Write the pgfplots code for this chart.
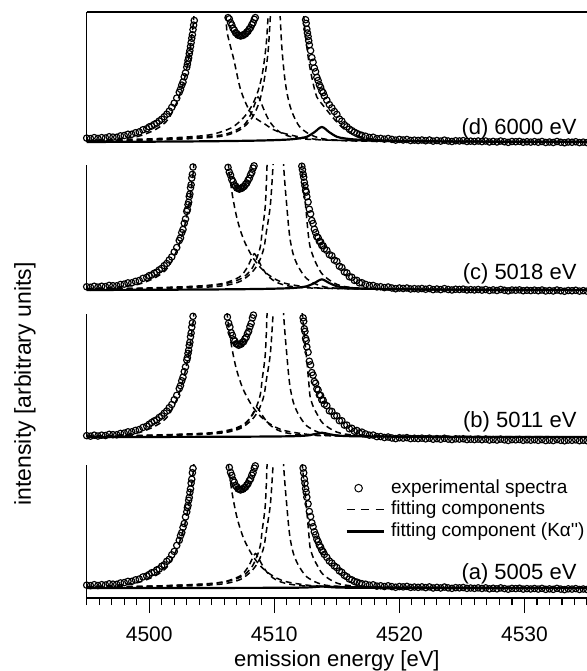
\documentclass[border=0pt]{standalone}
\usepackage{fontspec}
\setmainfont{Liberation Sans}
\usepackage{pgfplots}
\pgfplotsset{compat=1.18}
\begin{document}
\begin{tikzpicture}
\useasboundingbox (0,0) rectangle (587bp,671bp);
\pgfplotsset{
  panel/.style={scale only axis, width=500.3bp, xmin=4495, xmax=4535, ymax=1},
  expt/.style={black, only marks, mark=o, mark size=3.2bp, mark options={line width=1.15bp, solid}},
  comp/.style={black, smooth, no marks, line width=1.5bp, dash pattern=on 6bp off 4bp},
  kapp/.style={black, smooth, no marks, line width=2.2bp},
}
% ---------------- panel d ----------------
\begin{axis}[panel, name=pd, at={(86.7bp,521.5bp)}, anchor=south west, height=132.5bp, ymin=-0.06, hide axis]
\addplot[expt] coordinates {(4495.0,0.031)(4495.3,0.027)(4495.6,0.035)(4495.9,0.028)(4496.2,0.035)(4496.5,0.032)(4496.8,0.042)(4497.1,0.039)(4497.4,0.038)(4497.7,0.049)(4498.0,0.052)(4498.3,0.062)(4498.6,0.062)(4498.9,0.074)(4499.2,0.081)(4499.5,0.098)(4499.8,0.106)
(4500.0,0.121)(4500.2,0.128)(4500.4,0.141)(4500.6,0.151)(4500.8,0.168)(4501.0,0.182)(4501.2,0.202)(4501.4,0.222)(4501.6,0.247)(4501.8,0.277)(4502.0,0.311)(4502.2,0.351)(4502.4,0.398)(4502.5,0.422)(4502.6,0.455)(4502.7,0.479)(4502.8,0.521)(4502.9,0.553)(4503.0,0.598)(4503.05,0.622)(4503.1,0.652)(4503.15,0.672)(4503.2,0.706)(4503.25,0.731)(4503.3,0.764)(4503.35,0.795)(4503.4,0.830)(4503.45,0.858)(4503.5,0.899)(4503.55,0.935)(4503.6,0.972)
(4506.3,0.995)(4506.4,0.985)(4506.5,0.955)(4506.6,0.936)(4506.7,0.909)(4506.8,0.895)(4506.9,0.874)(4507.0,0.867)(4507.1,0.855)(4507.2,0.853)(4507.3,0.848)(4507.4,0.852)(4507.5,0.853)(4507.6,0.862)(4507.7,0.865)(4507.8,0.879)(4507.9,0.886)(4508.0,0.904)(4508.1,0.915)(4508.2,0.938)(4508.3,0.954)(4508.4,0.981)(4508.48,0.995)
(4512.5,0.978)(4512.55,0.949)(4512.6,0.903)(4512.65,0.872)(4512.7,0.844)(4512.75,0.810)(4512.8,0.777)(4512.9,0.731)(4513.0,0.675)(4513.1,0.638)(4513.2,0.592)(4513.3,0.562)(4513.4,0.517)(4513.5,0.492)(4513.6,0.458)(4513.7,0.438)(4513.8,0.407)(4513.9,0.395)(4514.0,0.368)(4514.2,0.334)(4514.4,0.299)(4514.6,0.273)(4514.8,0.244)(4515.0,0.221)(4515.2,0.184)(4515.4,0.167)(4515.6,0.138)(4515.8,0.122)(4516.0,0.103)(4516.2,0.091)(4516.4,0.078)(4516.6,0.068)(4516.8,0.059)(4517.0,0.053)
(4517.3,0.046)(4517.6,0.036)(4517.9,0.038)(4518.2,0.027)(4518.5,0.029)(4518.8,0.023)(4519.1,0.028)(4519.4,0.021)(4519.7,0.015)(4520.0,0.021)
(4520.3,0.016)(4520.6,0.020)(4520.9,0.012)(4521.2,0.015)(4521.5,0.012)(4521.8,0.016)(4522.1,0.010)(4522.4,0.016)(4522.7,0.007)(4523.0,0.012)(4523.3,0.007)(4523.6,0.015)(4523.9,0.008)(4524.2,0.004)(4524.5,0.010)(4524.8,0.008)(4525.1,0.011)(4525.4,0.004)(4525.7,0.007)(4526.0,0.004)(4526.3,0.008)(4526.6,0.003)(4526.9,0.008)(4527.2,0.000)(4527.5,0.005)(4527.8,0.000)(4528.1,0.008)(4528.4,0.002)(4528.7,-0.003)(4529.0,0.004)(4529.3,0.002)(4529.6,0.005)(4529.9,-0.002)(4530.2,0.002)(4530.5,-0.001)(4530.8,0.003)(4531.1,-0.002)(4531.4,0.004)(4531.7,-0.004)(4532.0,0.000)(4532.3,-0.004)(4532.6,0.004)(4532.9,-0.002)(4533.2,-0.006)(4533.5,0.000)(4533.8,-0.002)(4534.1,0.002)(4534.4,-0.005)(4534.7,-0.001)(4535.0,-0.005)};
\addplot[comp] coordinates {(4495,0.012)(4497,0.02)(4499,0.042)(4500.5,0.10)(4501.5,0.18)(4502.3,0.34)(4502.8,0.50)(4503.2,0.70)(4503.5,0.93)(4503.6,1.05)};
\addplot[comp] coordinates {(4506.05,1.1)(4506.15,0.98)(4506.24,0.87)(4506.76,0.66)(4507.3,0.42)(4507.96,0.26)(4508.5,0.19)(4509.15,0.15)(4509.9,0.10)(4510.74,0.07)(4512.6,0.03)(4515,0.012)(4520,0.004)(4535,0.0)};
\addplot[comp] coordinates {(4495,0.0065)(4500.2,0.019)(4504.06,0.0385)(4506.16,0.064)(4507.51,0.129)(4508.11,0.219)(4508.41,0.296)(4508.7,0.36)(4508.96,0.309)(4509.23,0.244)(4509.61,0.167)(4510.13,0.103)(4510.71,0.064)(4511.51,0.0385)(4513.21,0.019)(4520.2,0.0065)(4535,0.0025)};
\addplot[comp] coordinates {(4495,0.012)(4500,0.025)(4503,0.04)(4505,0.06)(4506.5,0.11)(4507.3,0.17)(4507.9,0.24)(4508.4,0.33)(4508.8,0.44)(4509.1,0.58)(4509.35,0.78)(4509.5,1.0)(4509.55,1.12)};
\addplot[comp] coordinates {(4495,0.008)(4500,0.015)(4504,0.03)(4506,0.05)(4507.3,0.1)(4508.2,0.19)(4508.8,0.32)(4509.2,0.5)(4509.5,0.72)(4509.68,1.0)(4509.72,1.12)};
\addplot[comp] coordinates {(4510.4,1.1)(4510.47,1.0)(4510.6,0.76)(4510.8,0.54)(4511.0,0.40)(4511.25,0.29)(4511.54,0.21)(4512.0,0.125)(4512.6,0.075)(4513.5,0.035)(4515,0.015)(4520,0.005)(4535,0.0)};
\addplot[comp] coordinates {(4512.3,1.1)(4512.4,0.95)(4512.6,0.76)(4512.8,0.62)(4513.1,0.47)(4513.4,0.36)(4513.8,0.305)(4514.2,0.255)(4514.6,0.205)(4515.0,0.16)(4515.5,0.11)(4516.3,0.06)(4517.5,0.03)(4520,0.01)(4535,0.0)};
\addplot[kapp] coordinates {(4495,0)(4502,0.0036)(4506,0.0072)(4509,0.012)(4511,0.019)(4512,0.029)(4512.6,0.042)(4513.2,0.078)(4513.8,0.12)(4514.4,0.078)(4515.0,0.042)(4515.6,0.029)(4516.6,0.019)(4518.6,0.012)(4522,0.006)(4528,0.0024)(4535,0.0012)};
\end{axis}
% ---------------- panel c ----------------
\begin{axis}[panel, name=pc, at={(86.7bp,373.5bp)}, anchor=south west, height=132.5bp, ymin=-0.06, hide axis]
\addplot[expt] coordinates {(4495.0,0.026)(4495.3,0.022)(4495.6,0.030)(4495.9,0.023)(4496.2,0.030)(4496.5,0.027)(4496.8,0.037)(4497.1,0.034)(4497.4,0.033)(4497.7,0.044)(4498.0,0.047)(4498.3,0.057)(4498.6,0.057)(4498.9,0.069)(4499.2,0.076)(4499.5,0.093)(4499.8,0.101)
(4500.0,0.115)(4500.2,0.120)(4500.4,0.134)(4500.6,0.143)(4500.8,0.161)(4501.0,0.173)(4501.2,0.195)(4501.4,0.212)(4501.6,0.240)(4501.8,0.265)(4502.0,0.304)(4502.2,0.340)(4502.4,0.396)(4502.5,0.417)(4502.6,0.459)(4502.7,0.484)(4502.8,0.534)(4502.9,0.568)(4503.0,0.629)(4503.05,0.643)(4503.1,0.683)(4503.15,0.702)(4503.2,0.748)(4503.25,0.767)(4503.3,0.818)(4503.35,0.842)(4503.4,0.896)(4503.45,0.925)(4503.5,0.984)
(4506.3,0.981)(4506.4,0.943)(4506.5,0.919)(4506.6,0.884)(4506.7,0.867)(4506.8,0.840)(4506.9,0.832)(4507.0,0.816)(4507.1,0.814)(4507.2,0.807)(4507.3,0.813)(4507.4,0.814)(4507.5,0.825)(4507.6,0.829)(4507.7,0.846)(4507.8,0.856)(4507.9,0.878)(4508.0,0.893)(4508.1,0.921)(4508.2,0.941)(4508.3,0.975)(4508.38,0.993)
(4512.2,0.990)(4512.25,0.962)(4512.3,0.928)(4512.35,0.903)(4512.4,0.862)(4512.45,0.834)(4512.5,0.797)(4512.55,0.783)(4512.6,0.746)(4512.7,0.704)(4512.8,0.646)(4512.9,0.609)(4513.0,0.556)(4513.1,0.532)(4513.2,0.486)(4513.3,0.459)(4513.4,0.426)(4513.5,0.419)(4513.6,0.389)(4513.7,0.386)(4513.8,0.356)(4513.9,0.354)(4514.0,0.329)(4514.2,0.317)(4514.4,0.283)(4514.6,0.274)(4514.8,0.239)(4515.0,0.229)(4515.2,0.190)(4515.4,0.180)(4515.6,0.145)(4515.8,0.137)(4516.0,0.106)(4516.2,0.102)(4516.4,0.077)(4516.6,0.077)(4516.8,0.057)(4517.0,0.058)
(4517.3,0.045)(4517.6,0.036)(4517.9,0.036)(4518.2,0.025)(4518.5,0.026)(4518.8,0.019)(4519.1,0.024)(4519.4,0.016)(4519.7,0.010)(4520.0,0.016)
(4520.3,0.012)(4520.6,0.016)(4520.9,0.008)(4521.2,0.011)(4521.5,0.008)(4521.8,0.012)(4522.1,0.006)(4522.4,0.012)(4522.7,0.003)(4523.0,0.008)(4523.3,0.003)(4523.6,0.011)(4523.9,0.004)(4524.2,0.000)(4524.5,0.006)(4524.8,0.004)(4525.1,0.007)(4525.4,0.000)(4525.7,0.003)(4526.0,0.000)(4526.3,0.004)(4526.6,-0.001)(4526.9,0.004)(4527.2,-0.004)(4527.5,0.001)(4527.8,-0.004)(4528.1,0.004)(4528.4,-0.002)(4528.7,-0.007)(4529.0,0.000)(4529.3,-0.002)(4529.6,0.001)(4529.9,-0.006)(4530.2,-0.002)(4530.5,-0.005)(4530.8,-0.001)(4531.1,-0.006)(4531.4,0.000)(4531.7,-0.008)(4532.0,-0.004)(4532.3,-0.008)(4532.6,0.000)(4532.9,-0.006)(4533.2,-0.010)(4533.5,-0.004)(4533.8,-0.006)(4534.1,-0.002)(4534.4,-0.009)(4534.7,-0.005)(4535.0,-0.009)};
\addplot[comp] coordinates {(4495,0.012)(4497,0.02)(4499,0.042)(4500.5,0.10)(4501.5,0.18)(4502.3,0.34)(4502.8,0.50)(4503.2,0.70)(4503.5,0.93)(4503.6,1.05)};
\addplot[comp] coordinates {(4506.25,1.1)(4506.35,0.98)(4506.63,0.77)(4507.03,0.567)(4507.56,0.40)(4508.22,0.27)(4508.8,0.19)(4509.42,0.13)(4510.2,0.08)(4511.0,0.05)(4512.5,0.025)(4513.9,0.015)(4520,0.004)(4535,0.0)};
\addplot[comp] coordinates {(4495,0.005)(4499.9,0.016)(4503.76,0.031)(4505.86,0.052)(4507.21,0.104)(4507.81,0.176)(4508.11,0.238)(4508.4,0.29)(4508.66,0.249)(4508.93,0.197)(4509.31,0.135)(4509.83,0.083)(4510.41,0.052)(4511.21,0.031)(4512.91,0.016)(4519.9,0.005)(4535,0.002)};
\addplot[comp] coordinates {(4495,0.008)(4500,0.015)(4503,0.025)(4505,0.035)(4506.5,0.06)(4507.5,0.10)(4508.2,0.17)(4508.62,0.26)(4508.89,0.35)(4509.02,0.46)(4509.28,0.675)(4509.42,1.0)(4509.47,1.12)};
\addplot[comp] coordinates {(4495,0.005)(4500,0.01)(4504,0.02)(4506,0.035)(4507.3,0.07)(4508.2,0.14)(4508.7,0.21)(4509.0,0.28)(4509.2,0.35)(4509.36,0.46)(4509.68,0.675)(4509.9,1.0)(4509.95,1.12)};
\addplot[comp] coordinates {(4510.68,1.12)(4510.74,1.0)(4510.87,0.82)(4511.0,0.67)(4511.13,0.52)(4511.27,0.40)(4511.5,0.29)(4511.8,0.21)(4512.2,0.14)(4512.6,0.09)(4513.5,0.04)(4514.9,0.015)(4520,0.005)(4535,0.0)};
\addplot[comp] coordinates {(4512.1,1.1)(4512.25,0.93)(4512.4,0.78)(4512.55,0.62)(4512.7,0.46)(4512.85,0.35)(4513.1,0.27)(4513.4,0.20)(4513.9,0.12)(4515.0,0.045)(4516.5,0.016)(4520,0.005)(4535,0.0)};
\addplot[kapp] coordinates {(4495,0)(4502,0.0026)(4506,0.0051)(4509,0.0085)(4511,0.0136)(4512,0.0204)(4512.6,0.0298)(4513.2,0.0553)(4513.8,0.085)(4514.4,0.0553)(4515.0,0.0298)(4515.6,0.0204)(4516.6,0.0136)(4518.6,0.0085)(4522,0.0043)(4528,0.0017)(4535,0.0009)};
\end{axis}
% ---------------- panel b ----------------
\begin{axis}[panel, name=pb, at={(86.7bp,226.6bp)}, anchor=south west, height=130.4bp, ymin=-0.06, hide axis]
\addplot[expt] coordinates {(4495.0,0.011)(4495.3,0.007)(4495.6,0.015)(4495.9,0.008)(4496.2,0.015)(4496.5,0.012)(4496.8,0.022)(4497.1,0.019)(4497.4,0.018)(4497.7,0.029)(4498.0,0.032)(4498.3,0.042)(4498.6,0.042)(4498.9,0.054)(4499.2,0.061)(4499.5,0.078)(4499.8,0.088)
(4500.0,0.104)(4500.2,0.118)(4500.4,0.131)(4500.6,0.140)(4500.8,0.159)(4501.0,0.172)(4501.2,0.194)(4501.4,0.211)(4501.6,0.239)(4501.8,0.264)(4502.0,0.303)(4502.2,0.339)(4502.4,0.394)(4502.5,0.418)(4502.6,0.457)(4502.7,0.486)(4502.8,0.531)(4502.9,0.570)(4503.0,0.626)(4503.05,0.645)(4503.1,0.680)(4503.15,0.705)(4503.2,0.745)(4503.25,0.770)(4503.3,0.815)(4503.35,0.845)(4503.4,0.893)(4503.45,0.928)(4503.5,0.981)
(4506.25,0.975)(4506.35,0.925)(4506.45,0.894)(4506.55,0.848)(4506.65,0.825)(4506.75,0.790)(4506.85,0.779)(4506.95,0.758)(4507.05,0.755)(4507.15,0.746)(4507.25,0.754)(4507.35,0.755)(4507.45,0.770)(4507.55,0.775)(4507.65,0.798)(4507.75,0.810)(4507.85,0.840)(4507.95,0.859)(4508.05,0.896)(4508.15,0.923)(4508.25,0.968)(4508.33,0.991)
(4512.3,0.969)(4512.35,0.941)(4512.4,0.880)(4512.45,0.858)(4512.5,0.802)(4512.55,0.784)(4512.6,0.732)(4512.7,0.689)(4512.8,0.616)(4512.9,0.586)(4513.0,0.524)(4513.1,0.503)(4513.2,0.451)(4513.3,0.437)(4513.4,0.391)(4513.5,0.382)(4513.6,0.342)(4513.7,0.338)(4513.8,0.301)(4513.9,0.300)(4514.0,0.267)(4514.2,0.254)(4514.4,0.213)(4514.6,0.208)(4514.8,0.173)(4515.0,0.171)(4515.2,0.133)(4515.4,0.132)(4515.6,0.097)(4515.8,0.097)(4516.0,0.067)(4516.2,0.071)(4516.4,0.047)(4516.6,0.053)(4516.8,0.033)(4517.0,0.040)
(4517.3,0.025)(4517.6,0.015)(4517.9,0.016)(4518.2,0.003)(4518.5,0.004)(4518.8,-0.004)(4519.1,0.000)(4519.4,-0.008)(4519.7,-0.013)(4520.0,-0.006)
(4520.3,-0.009)(4520.6,-0.005)(4520.9,-0.013)(4521.2,-0.010)(4521.5,-0.013)(4521.8,-0.009)(4522.1,-0.015)(4522.4,-0.009)(4522.7,-0.018)(4523.0,-0.013)(4523.3,-0.018)(4523.6,-0.010)(4523.9,-0.017)(4524.2,-0.021)(4524.5,-0.015)(4524.8,-0.017)(4525.1,-0.014)(4525.4,-0.021)(4525.7,-0.018)(4526.0,-0.021)(4526.3,-0.017)(4526.6,-0.022)(4526.9,-0.017)(4527.2,-0.025)(4527.5,-0.020)(4527.8,-0.025)(4528.1,-0.017)(4528.4,-0.023)(4528.7,-0.028)(4529.0,-0.021)(4529.3,-0.023)(4529.6,-0.020)(4529.9,-0.027)(4530.2,-0.023)(4530.5,-0.026)(4530.8,-0.022)(4531.1,-0.027)(4531.4,-0.021)(4531.7,-0.029)(4532.0,-0.025)(4532.3,-0.029)(4532.6,-0.021)(4532.9,-0.027)(4533.2,-0.031)(4533.5,-0.025)(4533.8,-0.027)(4534.1,-0.023)(4534.4,-0.030)(4534.7,-0.026)(4535.0,-0.030)};
\addplot[comp] coordinates {(4495,0.006)(4497,0.012)(4499,0.032)(4500.5,0.09)(4501.5,0.17)(4502.3,0.33)(4502.8,0.50)(4503.2,0.70)(4503.5,0.93)(4503.6,1.05)};
\addplot[comp] coordinates {(4506.15,1.1)(4506.25,0.98)(4506.53,0.77)(4506.93,0.567)(4507.46,0.40)(4508.12,0.27)(4508.7,0.19)(4509.32,0.13)(4510.1,0.08)(4510.9,0.05)(4512.4,0.025)(4513.8,0.015)(4520,0.004)(4535,0.0)};
\addplot[comp] coordinates {(4495,0.004)(4500.1,0.013)(4503.96,0.026)(4506.06,0.043)(4507.41,0.086)(4508.01,0.146)(4508.31,0.197)(4508.6,0.24)(4508.86,0.206)(4509.13,0.163)(4509.51,0.111)(4510.03,0.069)(4510.61,0.043)(4511.41,0.026)(4513.11,0.013)(4520.1,0.004)(4535,0.002)};
\addplot[comp] coordinates {(4495,0.008)(4500,0.015)(4503,0.025)(4505,0.035)(4506.5,0.06)(4507.5,0.10)(4508.2,0.17)(4508.62,0.26)(4508.89,0.35)(4509.02,0.46)(4509.28,0.675)(4509.42,1.0)(4509.47,1.12)};
\addplot[comp] coordinates {(4495,0.005)(4500,0.01)(4504,0.02)(4506,0.035)(4507.3,0.07)(4508.2,0.14)(4508.7,0.21)(4509.0,0.28)(4509.2,0.35)(4509.36,0.46)(4509.68,0.675)(4509.9,1.0)(4509.95,1.12)};
\addplot[comp] coordinates {(4510.68,1.12)(4510.74,1.0)(4510.87,0.82)(4511.0,0.67)(4511.13,0.52)(4511.27,0.40)(4511.5,0.29)(4511.8,0.21)(4512.2,0.14)(4512.6,0.09)(4513.5,0.04)(4514.9,0.015)(4520,0.005)(4535,0.0)};
\addplot[comp] coordinates {(4512.15,1.1)(4512.3,0.93)(4512.45,0.78)(4512.6,0.62)(4512.75,0.45)(4512.86,0.33)(4513.1,0.25)(4513.4,0.19)(4513.9,0.11)(4515.0,0.04)(4516.5,0.015)(4520,0.005)(4535,0.0)};
\addplot[kapp] coordinates {(4495,0)(4502,0.001)(4506,0.002)(4509,0.0035)(4511,0.0056)(4512,0.0084)(4512.6,0.0123)(4513.2,0.0228)(4513.8,0.035)(4514.4,0.0228)(4515.0,0.0123)(4515.6,0.0084)(4516.6,0.0056)(4518.6,0.0035)(4522,0.0018)(4528,0.0007)(4535,0.0004)};
\end{axis}
% ---------------- panel a ----------------
\begin{axis}[panel, name=pa, at={(86.7bp,73bp)}, anchor=south west, height=133bp, ymin=-0.0813,
  axis x line*=bottom, axis y line=none, ytick=\empty,
  xtick={4500,4510,4520,4530}, minor xtick={4495,4496,...,4535},
  xtick align=outside, major tick length=15bp, minor tick length=7bp,
  x axis line style={line width=1.6bp},
  every tick/.style={black, line width=1.1bp},
  /pgf/number format/assume math mode=true,
  /pgf/number format/1000 sep={},
  xticklabel shift=18bp,
  xticklabel style={font=\fontsize{21bp}{25bp}\selectfont, inner sep=0pt, yshift=4bp},
  legend cell align=left,
  legend style={draw=none, fill=none, at={(0.5163,0.895)}, anchor=north west,
    font=\fontsize{19bp}{22bp}\selectfont, inner sep=0pt, row sep=3.5bp, column sep=6bp,
    nodes={inner sep=0pt, text height=14bp, text depth=4bp}},
]
\addlegendimage{legend image code/.code={\draw[black, mark=o, mark size=3.8bp, line width=1bp] plot coordinates {(12bp,0bp)};}}
\addlegendentry{experimental spectra}
\addlegendimage{legend image code/.code={\draw[black, line width=1.4bp, dash pattern=on 8bp off 6.5bp] (0bp,0bp) -- (37bp,0bp);}}
\addlegendentry{fitting components}
\addlegendimage{legend image code/.code={\draw[black, line width=2.8bp] (0bp,0bp) -- (37bp,0bp);}}
\addlegendentry{fitting component (Kα\textquotesingle\textquotesingle)}
\addplot[expt, forget plot] coordinates {(4495.0,0.023)(4495.3,0.019)(4495.6,0.027)(4495.9,0.020)(4496.2,0.027)(4496.5,0.024)(4496.8,0.034)(4497.1,0.031)(4497.4,0.030)(4497.7,0.041)(4498.0,0.044)(4498.3,0.054)(4498.6,0.054)(4498.9,0.066)(4499.2,0.073)(4499.5,0.090)(4499.8,0.098)
(4500.0,0.110)(4500.2,0.124)(4500.4,0.129)(4500.6,0.147)(4500.8,0.155)(4501.0,0.177)(4501.2,0.189)(4501.4,0.217)(4501.6,0.233)(4501.8,0.270)(4502.0,0.297)(4502.2,0.346)(4502.4,0.388)(4502.5,0.425)(4502.6,0.450)(4502.7,0.493)(4502.8,0.524)(4502.9,0.578)(4503.0,0.619)(4503.05,0.653)(4503.1,0.672)(4503.15,0.713)(4503.2,0.736)(4503.25,0.778)(4503.3,0.806)(4503.35,0.853)(4503.4,0.884)(4503.45,0.937)(4503.5,0.972)
(4506.4,0.98)(4506.5,0.94)(4506.6,0.915)(4506.7,0.878)(4506.8,0.860)(4506.9,0.832)(4507.0,0.823)(4507.1,0.806)(4507.2,0.804)(4507.3,0.797)(4507.4,0.803)(4507.5,0.804)(4507.6,0.816)(4507.7,0.820)(4507.8,0.838)(4507.9,0.848)(4508.0,0.872)(4508.1,0.887)(4508.2,0.917)(4508.3,0.938)(4508.4,0.974)(4508.48,0.993)
(4512.3,0.975)(4512.35,0.936)(4512.4,0.886)(4512.45,0.853)(4512.5,0.808)(4512.55,0.779)(4512.6,0.738)(4512.7,0.684)(4512.8,0.622)(4512.9,0.581)(4513.0,0.530)(4513.1,0.498)(4513.2,0.457)(4513.3,0.432)(4513.4,0.397)(4513.5,0.377)(4513.6,0.348)(4513.7,0.333)(4513.8,0.307)(4513.9,0.295)(4514.0,0.273)(4514.2,0.249)(4514.4,0.219)(4514.6,0.203)(4514.8,0.179)(4515.0,0.166)(4515.2,0.139)(4515.4,0.127)(4515.6,0.103)(4515.8,0.092)(4516.0,0.073)(4516.2,0.066)(4516.4,0.053)(4516.6,0.048)(4516.8,0.039)(4517.0,0.035)
(4517.3,0.031)(4517.6,0.023)(4517.9,0.026)(4518.2,0.015)(4518.5,0.018)(4518.8,0.012)(4519.1,0.018)(4519.4,0.011)(4519.7,0.006)(4520.0,0.012)
(4520.3,0.009)(4520.6,0.013)(4520.9,0.005)(4521.2,0.008)(4521.5,0.005)(4521.8,0.009)(4522.1,0.003)(4522.4,0.009)(4522.7,0.000)(4523.0,0.005)(4523.3,0.000)(4523.6,0.008)(4523.9,0.001)(4524.2,-0.003)(4524.5,0.003)(4524.8,0.001)(4525.1,0.004)(4525.4,-0.003)(4525.7,0.000)(4526.0,-0.003)(4526.3,0.001)(4526.6,-0.004)(4526.9,0.001)(4527.2,-0.007)(4527.5,-0.002)(4527.8,-0.007)(4528.1,0.001)(4528.4,-0.005)(4528.7,-0.010)(4529.0,-0.003)(4529.3,-0.005)(4529.6,-0.002)(4529.9,-0.009)(4530.2,-0.005)(4530.5,-0.008)(4530.8,-0.004)(4531.1,-0.009)(4531.4,-0.003)(4531.7,-0.011)(4532.0,-0.007)(4532.3,-0.011)(4532.6,-0.003)(4532.9,-0.009)(4533.2,-0.013)(4533.5,-0.007)(4533.8,-0.009)(4534.1,-0.005)(4534.4,-0.012)(4534.7,-0.008)(4535.0,-0.012)};
\addplot[comp, forget plot] coordinates {(4495,0.012)(4497,0.02)(4499,0.042)(4500.5,0.10)(4501.5,0.18)(4502.3,0.34)(4502.8,0.50)(4503.2,0.70)(4503.5,0.93)(4503.6,1.05)};
\addplot[comp, forget plot] coordinates {(4506.25,1.1)(4506.35,0.98)(4506.63,0.77)(4507.03,0.567)(4507.56,0.40)(4508.22,0.27)(4508.8,0.19)(4509.42,0.13)(4510.2,0.08)(4511.0,0.05)(4512.5,0.025)(4513.9,0.015)(4520,0.004)(4535,0.0)};
\addplot[comp, forget plot] coordinates {(4495,0.005)(4500,0.015)(4503.85,0.03)(4505.95,0.05)(4507.3,0.10)(4507.9,0.17)(4508.2,0.23)(4508.49,0.28)(4508.75,0.24)(4509.02,0.19)(4509.4,0.13)(4509.92,0.08)(4510.5,0.05)(4511.3,0.03)(4513,0.015)(4520,0.005)(4535,0.002)};
\addplot[comp, forget plot] coordinates {(4495,0.008)(4500,0.015)(4503,0.025)(4505,0.035)(4506.5,0.06)(4507.5,0.10)(4508.2,0.17)(4508.62,0.26)(4508.89,0.35)(4509.02,0.46)(4509.28,0.675)(4509.42,1.0)(4509.47,1.12)};
\addplot[comp, forget plot] coordinates {(4495,0.005)(4500,0.01)(4504,0.02)(4506,0.035)(4507.3,0.07)(4508.2,0.14)(4508.7,0.21)(4509.0,0.28)(4509.2,0.35)(4509.36,0.46)(4509.68,0.675)(4509.9,1.0)(4509.95,1.12)};
\addplot[comp, forget plot] coordinates {(4510.68,1.12)(4510.74,1.0)(4510.87,0.82)(4511.0,0.67)(4511.13,0.52)(4511.27,0.40)(4511.5,0.29)(4511.8,0.21)(4512.2,0.14)(4512.6,0.09)(4513.5,0.04)(4514.9,0.015)(4520,0.005)(4535,0.0)};
\addplot[comp, forget plot] coordinates {(4512.15,1.1)(4512.3,0.93)(4512.45,0.78)(4512.6,0.62)(4512.75,0.45)(4512.86,0.33)(4513.1,0.25)(4513.4,0.19)(4513.9,0.11)(4515.0,0.04)(4516.5,0.015)(4520,0.005)(4535,0.0)};
\addplot[kapp, forget plot] coordinates {(4495,0)(4502,0.0004)(4506,0.0007)(4509,0.0012)(4511,0.0019)(4512,0.0029)(4512.6,0.0042)(4513.2,0.0078)(4513.8,0.012)(4514.4,0.0078)(4515.0,0.0042)(4515.6,0.0029)(4516.6,0.0019)(4518.6,0.0012)(4522,0.0006)(4528,0.0002)(4535,0.0001)};
\end{axis}
% frame lines
\draw[line width=1.3bp] ([yshift=7.5bp]pd.south west) -- ([yshift=5bp]pd.north west);
\draw[line width=1.8bp] ([yshift=5bp]pd.north west) -- ([yshift=5bp]pd.north east);
\draw[line width=1.3bp] ([yshift=7.5bp]pc.south west) -- (pc.north west);
\draw[line width=1.3bp] ([yshift=7.4bp]pb.south west) -- (pb.north west);
\draw[line width=1.3bp] (pa.south west) -- (pa.north west);
% panel labels
\node[anchor=base east, font=\fontsize{22bp}{26bp}\selectfont] at ([xshift=-7bp,yshift=14.5bp]pd.south east) {(d) 6000 eV};
\node[anchor=base east, font=\fontsize{22bp}{26bp}\selectfont] at ([xshift=-7bp,yshift=17.5bp]pc.south east) {(c) 5018 eV};
\node[anchor=base east, font=\fontsize{22bp}{26bp}\selectfont] at ([xshift=-7bp,yshift=16.4bp]pb.south east) {(b) 5011 eV};
\node[anchor=base east, font=\fontsize{22bp}{26bp}\selectfont] at ([xshift=-7bp,yshift=18bp]pa.south east) {(a) 5005 eV};
% axis titles
\node[inner sep=0pt, font=\fontsize{22bp}{26bp}\selectfont] at (336.9bp,10.5bp) {emission energy [eV]};
\node[rotate=90, font=\fontsize{23bp}{27bp}\selectfont] at (25bp,287bp) {intensity [arbitrary units]};
\end{tikzpicture}
\end{document}
